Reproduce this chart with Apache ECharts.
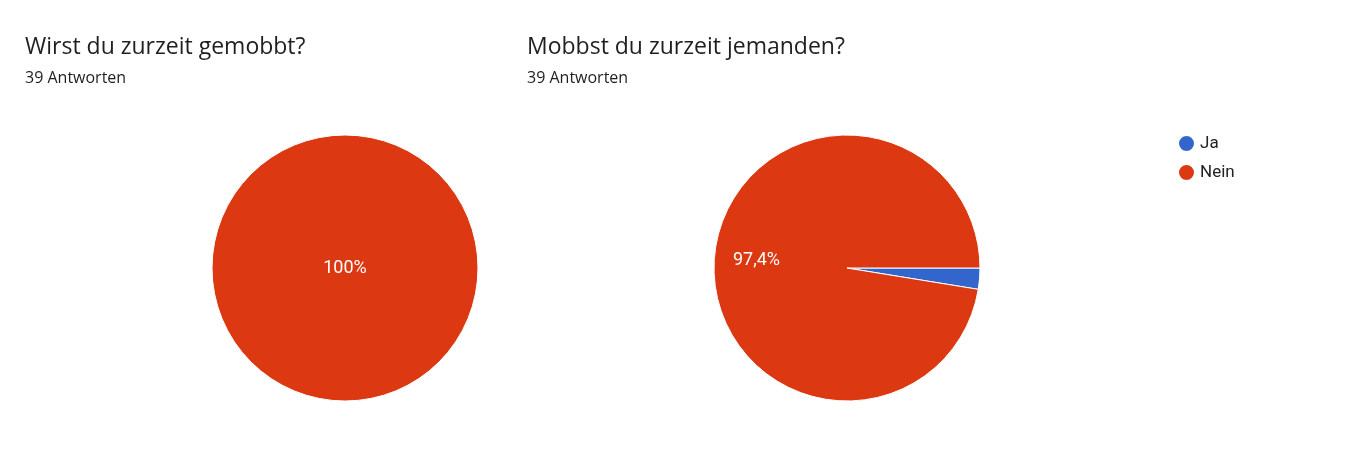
<!DOCTYPE html>
<html lang="de">

<head>
  <meta charset="UTF-8">
  <title>Umfrage Mobbing</title>
  <style>
    html,
    body {
      margin: 0;
      padding: 0;
      background: #ffffff;
    }

    #main {
      width: 1362px;
      height: 450px;
    }
  </style>
  <script src="https://cdn.jsdelivr.net/npm/echarts@6/dist/echarts.min.js"></script>
</head>

<body>
  <div id="main"></div>

  <script>
    // Daten
    var categories = ['Ja', 'Nein'];
    var colors = ['#3366cc', '#dc3912'];
    var leftTitle = 'Wirst du zurzeit gemobbt?';
    var rightTitle = 'Mobbst du zurzeit jemanden?';
    var leftValues = [0, 39];
    var rightValues = [1, 38];

    function sum(arr) {
      return arr.reduce(function (a, b) { return a + b; }, 0);
    }

    function sumText(values) {
      return sum(values) + ' Antworten';
    }

    // 0-Werte werden nicht gezeichnet
    function buildData(values) {
      var out = [];
      values.forEach(function (v, i) {
        if (v > 0) {
          out.push({ name: categories[i], value: v, itemStyle: { color: colors[i] } });
        }
      });
      return out;
    }

    // deutsches Prozentformat, z.B. 97,4%
    function percentLabel(values) {
      var total = sum(values);
      return function (p) {
        var pct = p.value / total * 100;
        if (pct < 5) return '';
        var r = Math.round(pct * 10) / 10;
        return String(r).replace('.', ',') + '%';
      };
    }

    var R = 133;
    var centerL = [345, 268];
    var centerR = [847, 268];
    var titleFont = '"Open Sans", Roboto, Arial, sans-serif';
    var labelStyle = { color: '#ffffff', fontSize: 18, fontFamily: 'Roboto, Arial, sans-serif' };

    var myChart = echarts.init(document.getElementById('main'));

    var option = {
      animation: false,
      title: [
        {
          text: leftTitle,
          subtext: sumText(leftValues),
          left: 20,
          top: 31,
          itemGap: 11,
          textStyle: { fontSize: 23, fontWeight: 'normal', color: '#1f1f1f', fontFamily: titleFont },
          subtextStyle: { fontSize: 16, color: '#1f1f1f', fontFamily: titleFont }
        },
        {
          text: rightTitle,
          subtext: sumText(rightValues),
          left: 522,
          top: 31,
          itemGap: 11,
          textStyle: { fontSize: 23, fontWeight: 'normal', color: '#1f1f1f', fontFamily: titleFont },
          subtextStyle: { fontSize: 16, color: '#1f1f1f', fontFamily: titleFont }
        }
      ],
      legend: {
        data: categories,
        orient: 'vertical',
        left: 1172,
        top: 129,
        icon: 'circle',
        itemWidth: 17,
        itemHeight: 17,
        itemGap: 10,
        selectedMode: false,
        textStyle: { fontSize: 17, color: '#222222', fontFamily: 'Roboto, Arial, sans-serif' }
      },
      series: [
        {
          name: leftTitle,
          type: 'pie',
          center: centerL,
          radius: [0, R],
          startAngle: 0,
          clockwise: true,
          silent: true,
          itemStyle: { borderColor: '#ffffff', borderWidth: 1 },
          label: Object.assign({ position: 'center', formatter: percentLabel(leftValues) }, labelStyle),
          labelLine: { show: false },
          emphasis: { disabled: true },
          data: buildData(leftValues)
        },
        {
          name: rightTitle,
          type: 'pie',
          center: centerR,
          radius: [0, R],
          startAngle: 0,
          clockwise: true,
          silent: true,
          itemStyle: { borderColor: '#ffffff', borderWidth: 1 },
          label: { show: false },
          labelLine: { show: false },
          emphasis: { disabled: true },
          data: buildData(rightValues)
        },
        // unsichtbarer Ring nur fuer die Beschriftung (weiter aussen als 'inside')
        {
          name: 'labels',
          type: 'pie',
          center: centerR,
          radius: [0, R * 1.32],
          startAngle: 0,
          clockwise: true,
          silent: true,
          z: 5,
          itemStyle: { color: 'transparent', borderWidth: 0 },
          label: Object.assign({ position: 'inside', formatter: percentLabel(rightValues) }, labelStyle),
          labelLine: { show: false },
          emphasis: { disabled: true },
          data: buildData(rightValues).map(function (d) {
            return { name: d.name, value: d.value, itemStyle: { color: 'transparent' } };
          })
        }
      ]
    };

    myChart.setOption(option);
  </script>
</body>

</html>
